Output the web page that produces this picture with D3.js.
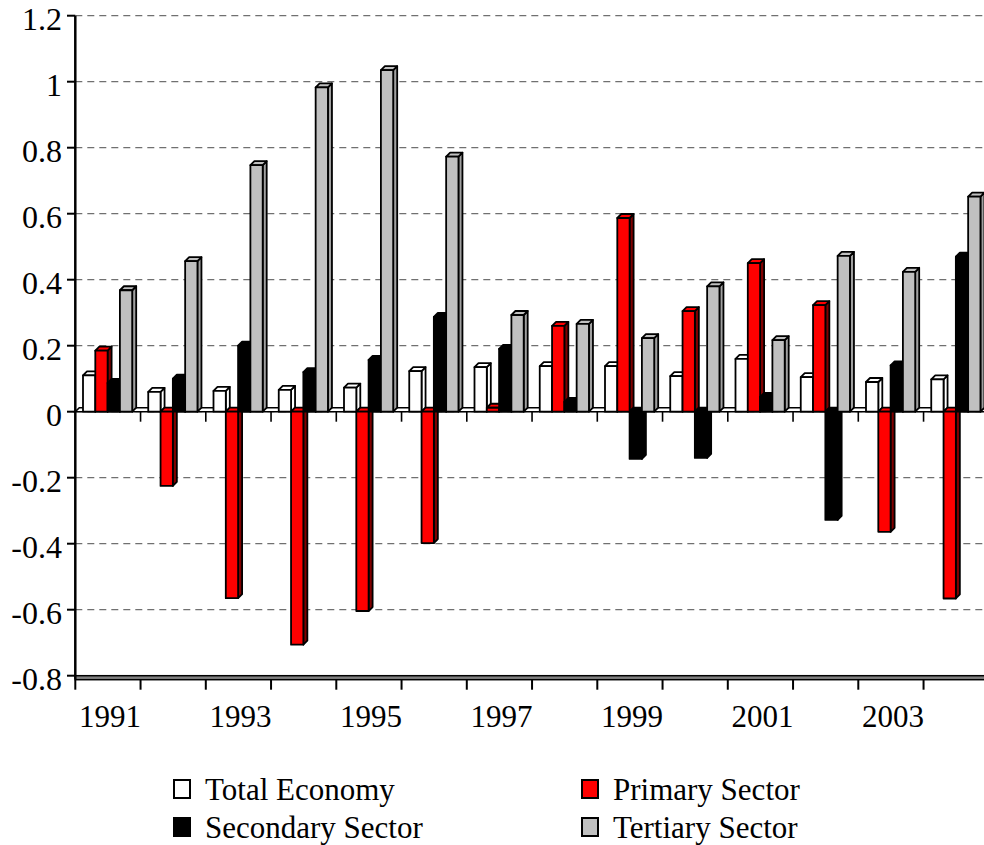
<!DOCTYPE html>
<html>
<head>
<meta charset="utf-8">
<script src="https://cdnjs.cloudflare.com/ajax/libs/d3/7.8.5/d3.min.js"></script>
<style>
  body { margin: 0; background: #fff; }
  svg text { font-family: "Liberation Serif", "Times New Roman", serif; }
</style>
</head>
<body>
<div id="chart"></div>
<script>
// data
const years = ["1991","1992","1993","1994","1995","1996","1997","1998","1999","2000","2001","2002","2003","2004"];
const seriesNames = ["Total Economy", "Primary Sector", "Secondary Sector", "Tertiary Sector"];
const totalEconomy = [0.11, 0.06, 0.063, 0.066, 0.073, 0.123, 0.135, 0.138, 0.138, 0.108, 0.16, 0.105, 0.09, 0.098];
const primarySector = [0.185, -0.225, -0.565, -0.706, -0.604, -0.398, 0.012, 0.26, 0.587, 0.305, 0.45, 0.323, -0.364, -0.566];
const secondarySector = [0.087, 0.1, 0.2, 0.12, 0.157, 0.287, 0.19, 0.03, -0.143, -0.14, 0.045, -0.328, 0.14, 0.47];
const tertiarySector = [0.368, 0.456, 0.747, 0.983, 1.035, 0.773, 0.293, 0.266, 0.223, 0.38, 0.217, 0.472, 0.424, 0.652];
const yTicks = [-0.8, -0.6, -0.4, -0.2, 0, 0.2, 0.4, 0.6, 0.8, 1, 1.2];
const xLabels = ["1991", "1993", "1995", "1997", "1999", "2001", "2003"];

const seriesValues = [totalEconomy, primarySector, secondarySector, tertiarySector];
const frontColor = ["#ffffff", "#ff0000", "#000000", "#c0c0c0"];
const sideColor = ["#ffffff", "#800000", "#000000", "#a0a0a0"];

const width = 984;
const height = 845;
const plot = { left: 75.3, top: 15.7, bottom: 675.7 };
const groupW = 65.25;
const depth = 4;
const serif = "'Liberation Serif', 'Times New Roman', serif";

const svg = d3.select("#chart")
  .append("svg")
  .attr("width", width)
  .attr("height", height);

// scales
const x = d3.scaleBand()
  .domain(years)
  .range([plot.left, plot.left + years.length * groupW]);

const xs = d3.scaleBand()
  .domain(seriesNames)
  .range([7.7, 7.7 + 4 * 12.3]);

const y = d3.scaleLinear()
  .domain([-0.8, 1.2])
  .range([plot.bottom, plot.top]);

const y0 = y(0);

// dashed gridlines
svg.append("g")
  .selectAll("line")
  .data(yTicks.filter(d => d > -0.8))
  .join("line")
  .attr("x1", plot.left)
  .attr("x2", width)
  .attr("y1", d => y(d))
  .attr("y2", d => y(d))
  .attr("stroke", "#707070")
  .attr("stroke-width", 1.3)
  .attr("stroke-dasharray", "7,5");

// floor at zero
svg.append("path")
  .attr("d", `M${plot.left},${y0}L${width + 10},${y0}L${width + 10 + depth},${y0 - depth}L${plot.left + depth},${y0 - depth}Z`)
  .attr("fill", "#fff")
  .attr("stroke", "#000")
  .attr("stroke-width", 1.6);

// small ticks under the zero line
svg.append("g")
  .selectAll("line")
  .data(d3.range(1, years.length))
  .join("line")
  .attr("x1", k => plot.left + k * groupW)
  .attr("x2", k => plot.left + k * groupW)
  .attr("y1", y0)
  .attr("y2", y0 + 10)
  .attr("stroke", "#000")
  .attr("stroke-width", 1.6);

// 3d-ish bars, drawn group by group so later bars cover earlier sides
const bars = svg.append("g");
years.forEach((yr, i) => {
  seriesNames.forEach((s, j) => {
    const v = seriesValues[j][i];
    const bx = x(yr) + xs(s);
    const bw = xs.bandwidth();
    const top = Math.min(y(v), y0);
    const bot = Math.max(y(v), y0);
    const g = bars.append("g")
      .attr("stroke", "#000")
      .attr("stroke-width", 1.8)
      .attr("stroke-linejoin", "round");
    // side face
    g.append("path")
      .attr("d", `M${bx + bw},${top}L${bx + bw + depth},${top - depth}L${bx + bw + depth},${bot - depth}L${bx + bw},${bot}Z`)
      .attr("fill", sideColor[j]);
    // top face
    g.append("path")
      .attr("d", `M${bx},${top}L${bx + depth},${top - depth}L${bx + bw + depth},${top - depth}L${bx + bw},${top}Z`)
      .attr("fill", frontColor[j]);
    // front face
    g.append("rect")
      .attr("x", bx)
      .attr("y", top)
      .attr("width", bw)
      .attr("height", bot - top)
      .attr("fill", frontColor[j]);
  });
});

// bottom axis (double line) and its ticks
svg.append("rect")
  .attr("x", plot.left)
  .attr("y", plot.bottom)
  .attr("width", width)
  .attr("height", 4)
  .attr("fill", "#808080")
  .attr("stroke", "#000")
  .attr("stroke-width", 1.5);

svg.append("g")
  .selectAll("line")
  .data(d3.range(0, years.length))
  .join("line")
  .attr("x1", k => plot.left + k * groupW)
  .attr("x2", k => plot.left + k * groupW)
  .attr("y1", plot.bottom + 4)
  .attr("y2", plot.bottom + 14)
  .attr("stroke", "#000")
  .attr("stroke-width", 2);

// x labels every other year
svg.append("g")
  .selectAll("text")
  .data(xLabels)
  .join("text")
  .attr("x", d => x(d) + x.bandwidth() / 2 + 2)
  .attr("y", 727)
  .attr("text-anchor", "middle")
  .attr("font-family", serif)
  .attr("font-size", 31)
  .text(d => d);

// y axis
svg.append("line")
  .attr("x1", plot.left)
  .attr("x2", plot.left)
  .attr("y1", plot.top)
  .attr("y2", plot.bottom + 4)
  .attr("stroke", "#000")
  .attr("stroke-width", 2.5);

const yAxis = svg.append("g");
yAxis.selectAll("line")
  .data(yTicks)
  .join("line")
  .attr("x1", 67)
  .attr("x2", plot.left)
  .attr("y1", d => y(d))
  .attr("y2", d => y(d))
  .attr("stroke", "#000")
  .attr("stroke-width", 2);

yAxis.selectAll("text")
  .data(yTicks)
  .join("text")
  .attr("x", 62)
  .attr("y", d => y(d) + 14)
  .attr("text-anchor", "end")
  .attr("font-family", serif)
  .attr("font-size", 32)
  .text(d => String(d));

// legend
const legendPos = [[174, 780], [582, 780], [174, 818], [582, 818]];
const legend = svg.append("g");
seriesNames.forEach((s, j) => {
  const [lx, ly] = legendPos[j];
  legend.append("rect")
    .attr("x", lx)
    .attr("y", ly)
    .attr("width", 16)
    .attr("height", 18)
    .attr("fill", frontColor[j])
    .attr("stroke", "#000")
    .attr("stroke-width", 2);
  legend.append("text")
    .attr("x", lx + 31)
    .attr("y", ly + 20)
    .attr("font-family", serif)
    .attr("font-size", 31)
    .text(s);
});
</script>
</body>
</html>
